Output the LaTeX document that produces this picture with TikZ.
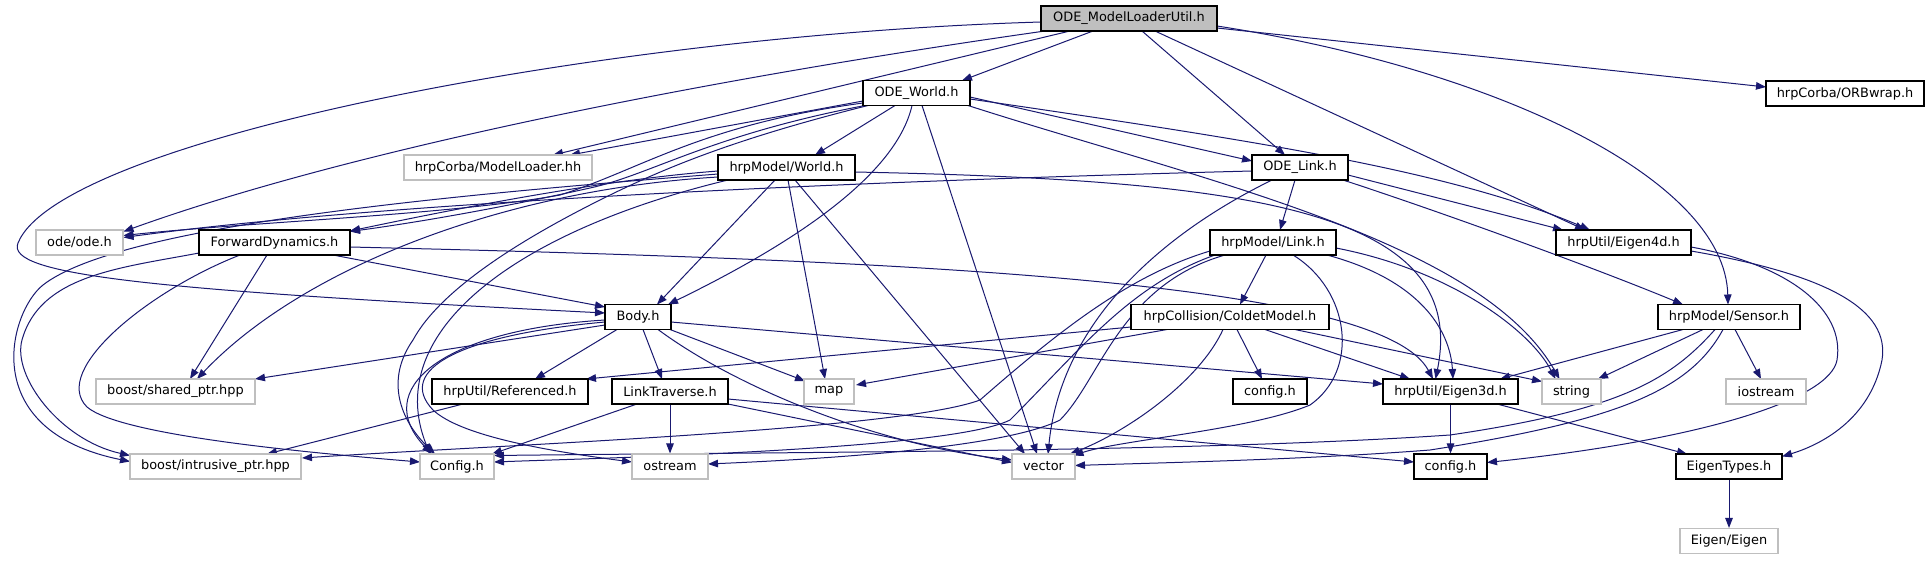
\documentclass[tikz,border=0pt]{standalone}
\usepackage{fontspec}
\setmainfont{DejaVu Sans}
\usetikzlibrary{arrows.meta,calc,backgrounds}
\definecolor{edgec}{RGB}{25,25,112}
\definecolor{gbord}{RGB}{191,191,191}
\definecolor{ufill}{RGB}{191,191,191}
\newcommand{\dxfont}{\fontsize{12.9}{15}\selectfont}
\tikzset{
  box/.style={draw=black, line width=1.1pt, fill=white, minimum height=25pt, inner sep=0pt, font=\dxfont},
  gbox/.style={box, draw=gbord},
  e/.style={draw=edgec, line width=1pt, -{Triangle[length=10pt,width=7.5pt]}},
}
\begin{document}
\begin{tikzpicture}[x=1pt,y=-1pt]
\useasboundingbox (0,0) rectangle (1929,560);
% nodes
\node[box, fill=ufill, minimum width=176pt] (U) at (1129,18.5) {ODE\_ModelLoaderUtil.h};
\node[box, minimum width=107pt] (W) at (916.5,93) {ODE\_World.h};
\node[box, minimum width=158pt] (ORB) at (1845,93.5) {hrpCorba/ORBwrap.h};
\node[gbox, minimum width=188pt] (ML) at (498,167.5) {hrpCorba/ModelLoader.hh};
\node[box, minimum width=137pt] (HW) at (786.5,167.5) {hrpModel/World.h};
\node[box, minimum width=96pt] (OL) at (1300,167.5) {ODE\_Link.h};
\node[gbox, minimum width=87pt] (ODE) at (79.5,242.5) {ode/ode.h};
\node[box, minimum width=151pt] (FD) at (274.5,242.5) {ForwardDynamics.h};
\node[box, minimum width=126pt] (LK) at (1273,242.5) {hrpModel/Link.h};
\node[box, minimum width=135pt] (E4) at (1623.5,242.5) {hrpUtil/Eigen4d.h};
\node[box, minimum width=66pt] (Body) at (638,317) {Body.h};
\node[box, minimum width=198pt] (CM) at (1230,317) {hrpCollision/ColdetModel.h};
\node[box, minimum width=142pt] (SN) at (1729,317) {hrpModel/Sensor.h};
\node[gbox, minimum width=159pt] (SP) at (175.5,391.5) {boost/shared\_ptr.hpp};
\node[box, minimum width=156pt] (REF) at (510,391.5) {hrpUtil/Referenced.h};
\node[box, minimum width=116pt] (LT) at (670,391.5) {LinkTraverse.h};
\node[gbox, minimum width=50pt] (MAP) at (829,391.5) {map};
\node[box, minimum width=74pt] (CFGa) at (1270,391.5) {config.h};
\node[box, minimum width=135pt] (E3) at (1450.5,391.5) {hrpUtil/Eigen3d.h};
\node[gbox, minimum width=59pt] (STR) at (1571.5,391.5) {string};
\node[gbox, minimum width=80pt] (IOS) at (1766,391.5) {iostream};
\node[gbox, minimum width=171pt] (IP) at (215.5,466.5) {boost/intrusive\_ptr.hpp};
\node[gbox, minimum width=74pt] (CFG) at (457,466.5) {Config.h};
\node[gbox, minimum width=76pt] (OST) at (670,466.5) {ostream};
\node[gbox, minimum width=63pt] (VEC) at (1043.5,466.5) {vector};
\node[box, minimum width=73pt] (CFGb) at (1450.5,466.5) {config.h};
\node[box, minimum width=106pt] (ET) at (1729,466.5) {EigenTypes.h};
\node[gbox, minimum width=98pt] (EIG) at (1729,541) {Eigen/Eigen};
\begin{pgfonlayer}{background}
\fill[white] (0,0) rectangle (1929,560);
% U
\draw[e] ($(U)+(88,9.5)$) -- ($(ORB)+(-79,-6.5)$);
\draw[e] ($(U)+(88,7.5)$) .. controls (1500,70) and (1725,180) .. ($(SN)+(-1,-12.5)$);
\draw[e] ($(U)+(26,12.5)$) -- ($(E4)+(-38.5,-12.5)$);
\draw[e] ($(U)+(13,12.5)$) -- ($(OL)+(-15,-12.5)$);
\draw[e] ($(U)+(-36,12.5)$) -- ($(W)+(45.5,-12.5)$);
\draw[e] ($(U)+(-59,12.5)$) -- ($(ML)+(55,-12.5)$);
\draw[e] ($(U)+(-84,12.5)$) .. controls (700,80) and (350,150) .. ($(ODE)+(44,-11)$);
\draw[e] ($(U)+(-88,3.5)$) .. controls (600,35) and (60,140) .. (18,243) .. controls (5,275) and (150,290) .. ($(Body)+(-33,-4)$);
% W
\draw[e] ($(W)+(-53.5,8)$) -- ($(ML)+(72,-12.5)$);
\draw[e] ($(W)+(-53.5,10)$) .. controls (700,125) and (640,170) .. (560,195) .. controls (450,215) and (250,222) .. ($(ODE)+(44,-7)$);
\draw[e] ($(W)+(-51.5,12.5)$) .. controls (710,135) and (650,175) .. (590,188) .. controls (500,208) and (420,222) .. ($(FD)+(75.5,-11)$);
\draw[e] ($(W)+(-48.5,12.5)$) .. controls (730,140) and (660,170) .. (600,200) .. controls (520,240) and (440,290) .. (413,340) .. controls (385,380) and (400,420) .. ($(CFG)+(-22,-12.5)$);
\draw[e] ($(W)+(-21.5,12.5)$) -- ($(HW)+(28.5,-12.5)$);
\draw[e] ($(W)+(-4.5,12.5)$) .. controls (895,180) and (780,250) .. ($(Body)+(30,-12.5)$);
\draw[e] ($(W)+(5.5,12.5)$) -- ($(VEC)+(-6.5,-12.5)$);
\draw[e] ($(W)+(53.5,4)$) -- ($(OL)+(-48,-6.5)$);
\draw[e] ($(W)+(53.5,6)$) .. controls (1250,140) and (1450,170) .. ($(E4)+(-33.5,-12.5)$);
\draw[e] ($(W)+(51.5,12.5)$) .. controls (1200,180) and (1480,240) .. ($(STR)+(-12,-12.5)$);
% HW
\draw[e] ($(HW)+(-68.5,3.5)$) .. controls (600,180) and (450,210) .. ($(FD)+(75.5,-11.5)$);
\draw[e] ($(HW)+(-68.5,6.5)$) .. controls (450,195) and (120,225) .. (43,285) .. controls (10,311) and (-25,430) .. ($(IP)+(-85.5,-5)$);
\draw[e] ($(HW)+(-68.5,9.5)$) .. controls (500,190) and (300,270) .. ($(SP)+(21.5,-12.5)$);
\draw[e] ($(HW)+(-11.5,12.5)$) -- ($(Body)+(19,-12.5)$);
\draw[e] ($(HW)+(-58.5,12.5)$) .. controls (520,230) and (380,330) .. ($(CFG)+(-27,-12.5)$);
\draw[e] ($(HW)+(1.5,12.5)$) -- ($(MAP)+(-4,-12.5)$);
\draw[e] ($(HW)+(8.5,12.5)$) -- ($(VEC)+(-18.5,-12.5)$);
\draw[e] ($(HW)+(68.5,4.5)$) .. controls (1250,180) and (1470,210) .. ($(E3)+(-15,-12.5)$);
% OL
\draw[e] ($(OL)+(-48,3.5)$) .. controls (900,180) and (400,200) .. ($(ODE)+(44,-5)$);
\draw[e] ($(OL)+(-5,12.5)$) -- ($(LK)+(7,-12.5)$);
\draw[e] ($(OL)+(48,7.5)$) -- ($(E4)+(-60.5,-12.5)$);
\draw[e] ($(OL)+(43,12.5)$) .. controls (1450,215) and (1600,270) .. ($(SN)+(-46,-12.5)$);
\draw[e] ($(OL)+(-28,12.5)$) .. controls (1150,240) and (1060,330) .. ($(VEC)+(4.5,-12.5)$);
% FD
\draw[e] ($(FD)+(58.5,12.5)$) -- ($(Body)+(-33,-10)$);
\draw[e] ($(FD)+(-7.5,12.5)$) -- ($(SP)+(14.5,-12.5)$);
\draw[e] ($(FD)+(-75.5,10.5)$) .. controls (120,268) and (40,275) .. (22,340) .. controls (12,376) and (60,440) .. ($(IP)+(-85.5,-11)$);
\draw[e] ($(FD)+(-34.5,12.5)$) .. controls (150,290) and (50,370) .. (87,407) .. controls (120,435) and (300,452) .. ($(CFG)+(-37,-4.5)$);
\draw[e] ($(FD)+(75.5,4.5)$) .. controls (900,260) and (1380,280) .. ($(E3)+(-17.5,-12.5)$);
% LK
\draw[e] ($(LK)+(-7,12.5)$) -- ($(CM)+(10,-12.5)$);
\draw[e] ($(LK)+(54,12.5)$) .. controls (1420,280) and (1450,330) .. ($(E3)+(2.5,-12.5)$);
\draw[e] ($(LK)+(63,5.5)$) .. controls (1450,270) and (1530,330) .. ($(STR)+(-16,-12.5)$);
\draw[e] ($(LK)+(20,12.5)$) .. controls (1350,290) and (1360,370) .. (1310,405) .. controls (1250,430) and (1120,440) .. ($(VEC)+(30,-11)$);
\draw[e] ($(LK)+(-63,8.5)$) .. controls (1130,275) and (1060,330) .. (980,400) .. controls (900,430) and (500,445) .. ($(IP)+(86.5,-8.5)$);
\draw[e] ($(LK)+(-58,12.5)$) .. controls (1130,285) and (1080,350) .. (1010,420) .. controls (950,450) and (600,458) .. ($(CFG)+(37,-4.5)$);
\draw[e] ($(LK)+(-48,12.5)$) .. controls (1120,285) and (1100,380) .. (1060,420) .. controls (1000,450) and (800,460) .. ($(OST)+(38,-2.5)$);
% CM
\draw[e] ($(CM)+(7,12.5)$) -- ($(CFGa)+(-8,-12.5)$);
\draw[e] ($(CM)+(35,12.5)$) -- ($(E3)+(-40.5,-12.5)$);
\draw[e] ($(CM)+(65,12.5)$) -- ($(STR)+(-29.5,-10)$);
\draw[e] ($(CM)+(-7,12.5)$) .. controls (1200,380) and (1130,430) .. ($(VEC)+(26.5,-12.5)$);
\draw[e] ($(CM)+(-99,10)$) -- ($(REF)+(76,-12.5)$);
\draw[e] ($(CM)+(-63,12.5)$) -- ($(MAP)+(27,-6.5)$);
% SN
\draw[e] ($(SN)+(-46,12.5)$) -- ($(E3)+(49.5,-12.5)$);
\draw[e] ($(SN)+(-26,12.5)$) -- ($(STR)+(26.5,-12.5)$);
\draw[e] ($(SN)+(6,12.5)$) -- ($(IOS)+(-5,-12.5)$);
\draw[e] ($(SN)+(-14,12.5)$) .. controls (1670,380) and (1620,410) .. (1450,435) .. controls (1200,452) and (800,452) .. ($(CFG)+(37,-11)$);
\draw[e] ($(SN)+(-6,12.5)$) .. controls (1690,390) and (1620,420) .. (1430,450) .. controls (1300,460) and (1150,463) .. ($(VEC)+(31.5,-1)$);
% E4
\draw[e] ($(E4)+(67.5,4.5)$) .. controls (1790,265) and (1845,310) .. (1837,360) .. controls (1830,400) and (1700,440) .. ($(CFGb)+(36.5,-4)$);
\draw[e] ($(E4)+(67.5,8.5)$) .. controls (1830,275) and (1890,310) .. (1882,360) .. controls (1870,420) and (1820,445) .. ($(ET)+(53,-10)$);
% Body
\draw[e] ($(Body)+(-21,12.5)$) -- ($(REF)+(25,-12.5)$);
\draw[e] ($(Body)+(5,12.5)$) -- ($(LT)+(-8,-12.5)$);
\draw[e] ($(Body)+(32,12.5)$) -- ($(MAP)+(-24,-10.5)$);
\draw[e] ($(Body)+(20,12.5)$) .. controls (740,390) and (880,445) .. ($(VEC)+(-31.5,-6.5)$);
\draw[e] ($(Body)+(33,5)$) -- ($(E3)+(-67.5,-7.5)$);
\draw[e] ($(Body)+(-33,8)$) -- ($(SP)+(79.5,-12.5)$);
\draw[e] ($(Body)+(-33,3)$) .. controls (440,330) and (370,390) .. ($(CFG)+(-25,-12.5)$);
\draw[e] ($(Body)+(-33,5)$) .. controls (460,335) and (395,370) .. (433,410) .. controls (460,435) and (540,450) .. ($(OST)+(-38,-4.5)$);
% LT
\draw[e] ($(LT)+(-33,12.5)$) -- ($(CFG)+(35,-12.5)$);
\draw[e] (LT.south) -- (OST.north);
\draw[e] ($(LT)+(58,12.5)$) -- ($(VEC)+(-31.5,-4)$);
\draw[e] ($(LT)+(58,7.5)$) -- ($(CFGb)+(-36.5,-4.5)$);
% REF, E3, ET
\draw[e] ($(REF)+(-47,12.5)$) -- ($(IP)+(51.5,-12.5)$);
\draw[e] (E3.south) -- (CFGb.north);
\draw[e] ($(E3)+(46.5,12.5)$) -- ($(ET)+(-42,-12.5)$);
\draw[e] (ET.south) -- (EIG.north);
\end{pgfonlayer}
\end{tikzpicture}
\end{document}
